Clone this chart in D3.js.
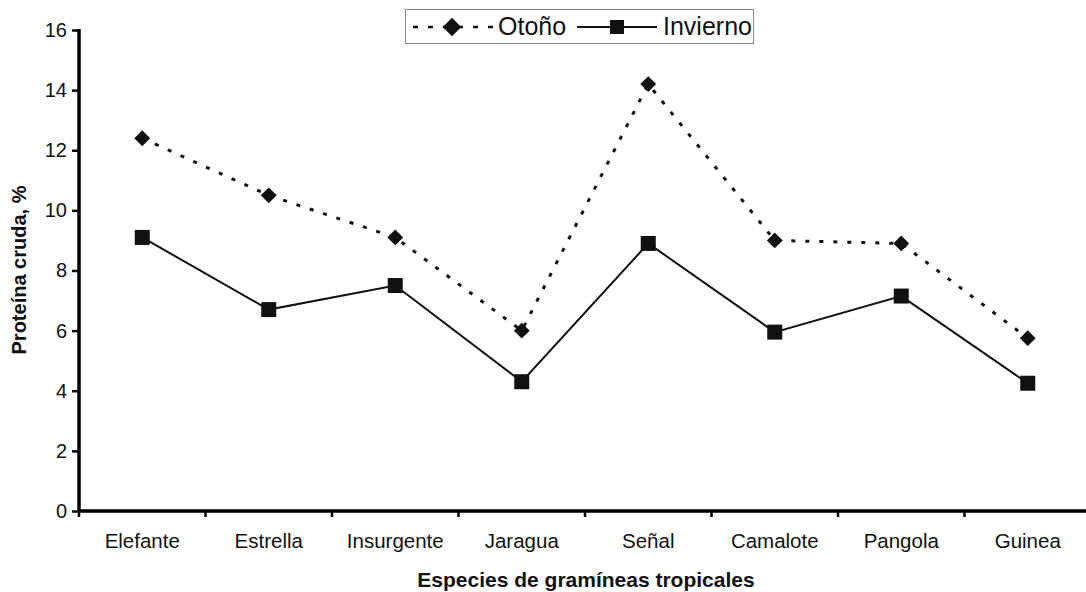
<!DOCTYPE html>
<html>
<head>
<meta charset="utf-8">
<script src="https://cdn.jsdelivr.net/npm/d3@7"></script>
<style>
  body { margin: 0; background: #fff; }
  svg { display: block; font-family: 'Liberation Sans', Arial, sans-serif; }
</style>
</head>
<body>
<div id="chart"></div>
<script>
const species = ['Elefante', 'Estrella', 'Insurgente', 'Jaragua', 'Señal', 'Camalote', 'Pangola', 'Guinea']
const otono = [12.4, 10.5, 9.1, 6.0, 14.2, 9.0, 8.9, 5.75]
const invierno = [9.1, 6.7, 7.5, 4.3, 8.9, 5.95, 7.15, 4.25]
const yTicks = [0, 2, 4, 6, 8, 10, 12, 14, 16]

const width = 1086
const height = 592

const svg = d3.select('#chart').append('svg')
  .attr('width', width)
  .attr('height', height)

const x = d3.scaleBand()
  .domain(species)
  .range([79, 1091])

const y = d3.scaleLinear()
  .domain([0, 16])
  .range([511, 30])

// y axis
const yAxis = svg.append('g')
  .attr('transform', 'translate(79,0)')
  .call(d3.axisLeft(y).tickValues(yTicks).tickSize(7).tickPadding(5).tickSizeOuter(0))
yAxis.select('.domain').attr('stroke-width', 3.5).attr('d', `M0,${y(16) - 1}V${y(0) + 1}`)
yAxis.selectAll('.tick line').attr('stroke-width', 2.5)
yAxis.selectAll('.tick text')
  .style('font-size', '20px')
  .attr('fill', '#111')

// x axis, ticks sit between categories
const xAxis = svg.append('g')
  .attr('transform', `translate(0,${y(0)})`)
  .call(d3.axisBottom(x).tickSize(0).tickPadding(22))
xAxis.select('.domain').attr('stroke-width', 3.5).attr('d', `M78,0H${width}`)
xAxis.selectAll('.tick text')
  .style('font-size', '20.5px')
  .attr('fill', '#111')

svg.append('g')
  .selectAll('line')
  .data(species)
  .join('line')
  .attr('x1', d => x(d))
  .attr('x2', d => x(d))
  .attr('y1', y(0))
  .attr('y2', y(0) + 6)
  .attr('stroke', '#000')
  .attr('stroke-width', 2.5)

// axis titles
svg.append('text')
  .attr('x', 586)
  .attr('y', 587)
  .attr('text-anchor', 'middle')
  .style('font-size', '21px')
  .style('font-weight', 'bold')
  .attr('fill', '#111')
  .text('Especies de gramíneas tropicales')

svg.append('text')
  .attr('transform', 'translate(26,270) rotate(-90)')
  .attr('text-anchor', 'middle')
  .style('font-size', '20px')
  .style('font-weight', 'bold')
  .attr('fill', '#111')
  .text('Proteína cruda, %')

const cx = d => x(d) + x.bandwidth() / 2
const line = d3.line()
  .x((d, i) => cx(species[i]))
  .y(d => y(d))

// Otoño: dotted line with diamonds
svg.append('path')
  .datum(otono)
  .attr('d', line)
  .attr('fill', 'none')
  .attr('stroke', '#111')
  .attr('stroke-width', 3)
  .attr('stroke-dasharray', '4,10')

const diamond = d3.symbol().type(d3.symbolDiamond2).size(160)
svg.append('g')
  .selectAll('path')
  .data(otono)
  .join('path')
  .attr('d', diamond)
  .attr('transform', (d, i) => `translate(${cx(species[i])},${y(d)})`)
  .attr('fill', '#111')

// Invierno: solid line with squares
svg.append('path')
  .datum(invierno)
  .attr('d', line)
  .attr('fill', 'none')
  .attr('stroke', '#111')
  .attr('stroke-width', 2)

svg.append('g')
  .selectAll('rect')
  .data(invierno)
  .join('rect')
  .attr('x', (d, i) => cx(species[i]) - 7.5)
  .attr('y', d => y(d) - 7.5)
  .attr('width', 15)
  .attr('height', 15)
  .attr('fill', '#111')

// legend
const legend = svg.append('g')
legend.append('rect')
  .attr('x', 405.5)
  .attr('y', 9.5)
  .attr('width', 348)
  .attr('height', 34)
  .attr('fill', '#fff')
  .attr('stroke', '#888')
  .attr('stroke-width', 1)

legend.append('line')
  .attr('x1', 413).attr('x2', 496)
  .attr('y1', 27).attr('y2', 27)
  .attr('stroke', '#111')
  .attr('stroke-width', 2.5)
  .attr('stroke-dasharray', '5,10')
legend.append('path')
  .attr('d', d3.symbol().type(d3.symbolDiamond2).size(220))
  .attr('transform', 'translate(452,27)')
  .attr('fill', '#111')
legend.append('text')
  .attr('x', 498).attr('y', 35)
  .style('font-size', '25px')
  .attr('fill', '#111')
  .text('Otoño')

legend.append('line')
  .attr('x1', 577).attr('x2', 657)
  .attr('y1', 27).attr('y2', 27)
  .attr('stroke', '#111')
  .attr('stroke-width', 2)
legend.append('rect')
  .attr('x', 610).attr('y', 20)
  .attr('width', 14).attr('height', 14)
  .attr('fill', '#111')
legend.append('text')
  .attr('x', 663).attr('y', 35)
  .style('font-size', '25px')
  .attr('fill', '#111')
  .text('Invierno')
</script>
</body>
</html>
